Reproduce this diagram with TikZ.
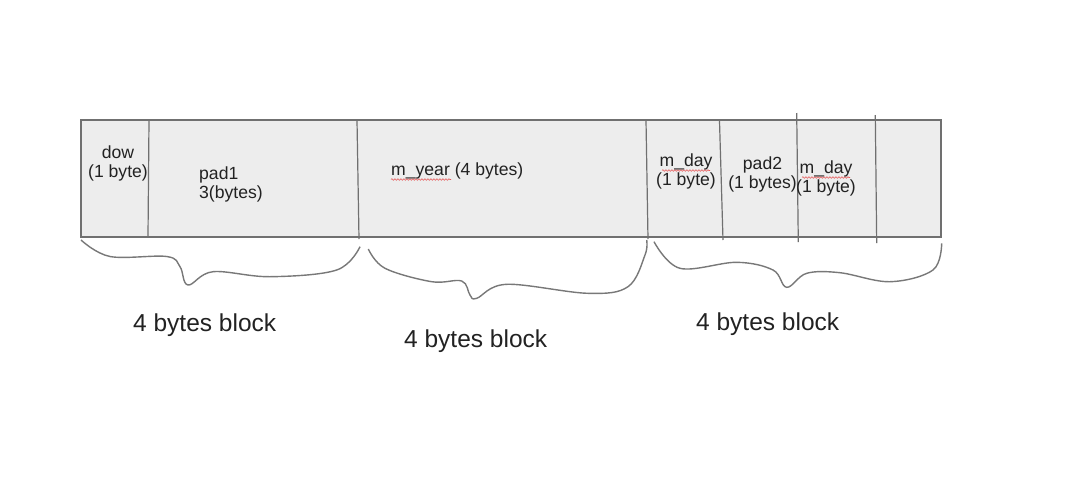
\documentclass[tikz,border=0pt]{standalone}
\usepackage{fontspec}
\setmainfont{Liberation Sans}
\usetikzlibrary{decorations.pathmorphing}
\definecolor{boxfill}{RGB}{237,237,237}
\definecolor{boxline}{RGB}{112,112,112}
\definecolor{braceline}{RGB}{120,120,120}
\definecolor{txt}{RGB}{34,34,34}
\definecolor{squig}{RGB}{230,90,90}
\begin{document}
\begin{tikzpicture}[x=1pt,y=-1pt,
  cell/.style={draw=boxline,line width=1.3pt,fill=boxfill},
  divider/.style={draw=boxline,line width=1.2pt},
  bracecurve/.style={draw=braceline,line width=1.4pt,smooth,tension=0.6},
  small/.style={font=\fontsize{17.6}{19}\selectfont,text=txt,inner sep=0pt,align=center},
  big/.style={font=\fontsize{24.5}{28}\selectfont,text=txt,inner sep=0pt,anchor=base west},
  spell/.style={draw=squig,line width=0.6pt,decorate,decoration={snake,segment length=3pt,amplitude=0.8pt}}]
\useasboundingbox[fill=white] (0,0) rectangle (1072,499);
% main bar
\draw[cell] (81,120) rectangle (941,237);
% dividers
\coordinate (d1t) at (149,120); \coordinate (d1b) at (148,237);
\coordinate (d2t) at (357,120); \coordinate (d2b) at (359,239);
\coordinate (d3t) at (646,120); \coordinate (d3b) at (648,239);
\coordinate (d4t) at (719.5,121); \coordinate (d4b) at (723,240);
\coordinate (d5t) at (796.7,113); \coordinate (d5b) at (798.3,242);
\coordinate (d6t) at (875.3,115); \coordinate (d6b) at (876.7,243);
\draw[divider] (d1t) -- (d1b);
\draw[divider] (d2t) -- (d2b);
\draw[divider] (d3t) -- (d3b);
\draw[divider] (d4t) -- (d4b);
\draw[divider] (d5t) -- (d5b);
\draw[divider] (d6t) -- (d6b);
% cell texts
\node[small] (dow) at (118,163.5) {dow\\(1 byte)};
\node[small,align=left,anchor=west] (pad1) at (199,184) {pad1\\3(bytes)};
\node[small,anchor=west] (myear) at (391,170.7) {m\_year (4 bytes)};
\node[small] (mday1) at (686,171) {m\_day\\(1 byte)};
\node[small] (pad2) at (762.5,174.5) {pad2\\(1 bytes)};
\node[small] (mday2) at (826,178.8) {m\_day\\(1 byte)};
% spell-check underlines
\draw[spell] (391,179.5) -- (451,179.5);
\draw[spell] (662,170.5) -- (710,170.5);
\draw[spell] (802,177.5) -- (850,177.5);
% braces
\draw[bracecurve] plot coordinates {(81,240) (110,256.5) (166.7,256.5) (180,266.7) (188,285) (213,271.7) (270,276.7) (336.7,270) (360,246.7)};
\draw[bracecurve] plot coordinates {(368.3,249) (385,268.3) (431.7,281.7) (461.7,281) (470,295) (476.7,298.3) (506.7,284.3) (588,293.3) (628,286.7) (645,255) (646.7,240)};
\draw[bracecurve] plot coordinates {(654,241.7) (680,268.3) (736.7,262.3) (773,270) (786.7,287.3) (806.7,273.3) (840,272.7) (890,281.7) (933,270) (941.7,243.3)};
% block labels
\node[big] (b1) at (133,331) {4 bytes block};
\node[big] (b2) at (404,347.5) {4 bytes block};
\node[big] (b3) at (696,330) {4 bytes block};
\end{tikzpicture}
\end{document}
